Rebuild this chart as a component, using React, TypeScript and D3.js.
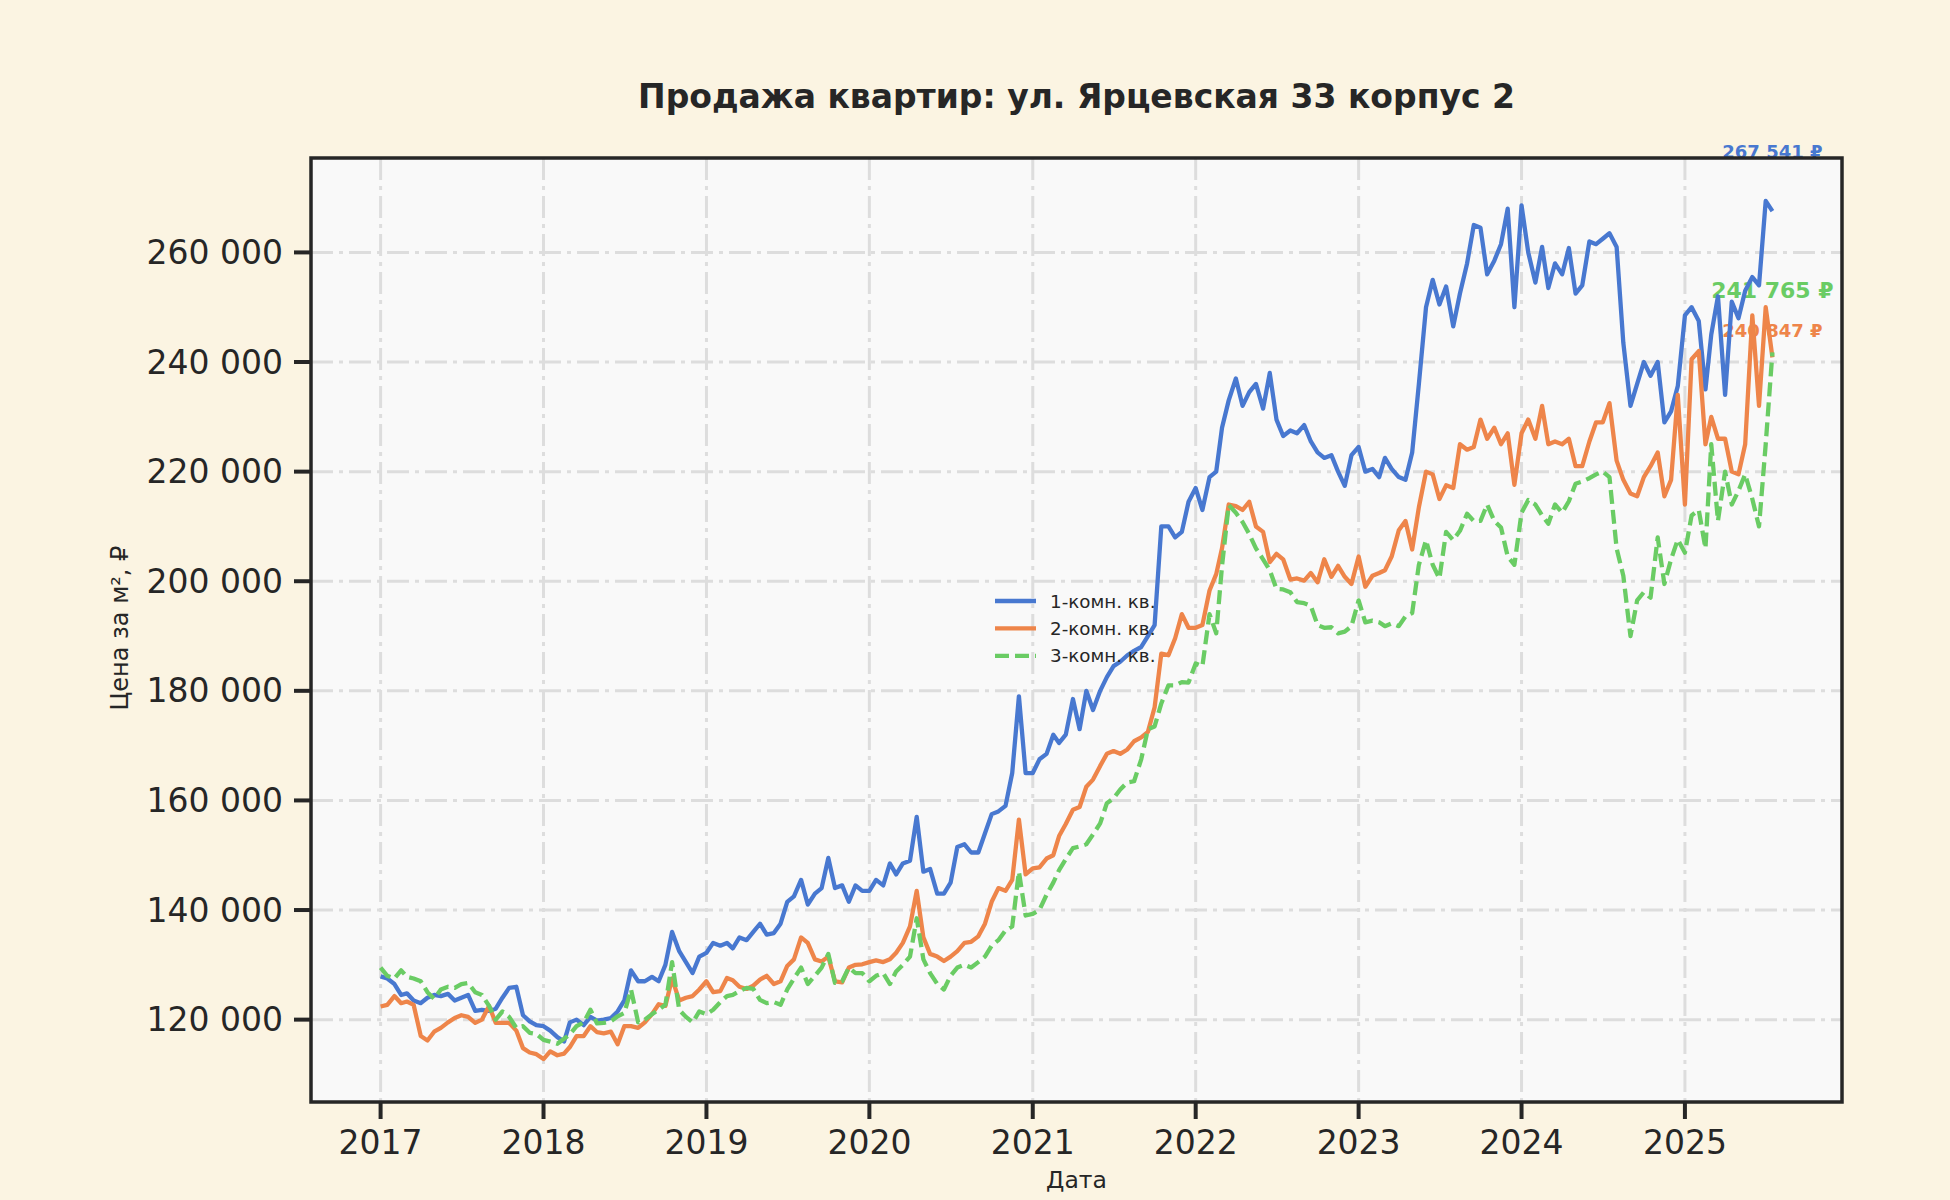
import React from 'react';
import * as d3 from 'd3';

const TITLE = 'Продажа квартир: ул. Ярцевская 33 корпус 2';
const X_LABEL = 'Дата';
const Y_LABEL = 'Цена за м², ₽';

const SERIES_NAMES = ['1-комн. кв.', '2-комн. кв.', '3-комн. кв.'];
const SERIES_COLORS = ['#4878d0', '#ee854a', '#6acc64'];
const SERIES_DASH = ['none', 'none', '14,6'];
// last-value label: vertical shift (px) and font size
const LABEL_SHIFT = [-53, -20, -54];
const LABEL_SIZE = [18, 18, 22];

// semi-monthly sampling: 1st and 16th of each month, Jan 2017 .. Jul 2025
const START_YEAR = 2017;
const POINTS = 206;
const DATES = d3.range(POINTS).map(i => new Date(Date.UTC(START_YEAR, Math.floor(i / 2), i % 2 ? 16 : 1)));

const ONE_ROOM = [
    127900, 127500, 126500, 124500, 124800, 123500, 123000, 124000, 124500, 124300, 124700, 123500, 124000, 124500, 121600, 121800, 121600, 122000, 124000, 125800, 126000, 120800, 119700, 119000,
    118800, 118000, 116800, 116000, 119500, 120000, 119000, 120500, 119800, 120000, 120300, 121500, 123500, 129000, 127000, 127000, 127800, 127000, 130000, 136000, 132500, 130500, 128500, 131500,
    132200, 134000, 133500, 134000, 133000, 135000, 134500, 136000, 137500, 135500, 135800, 137500, 141500, 142500, 145500, 141000, 143000, 144000, 149500, 144000, 144500, 141500, 144500, 143500,
    143500, 145500, 144500, 148500, 146500, 148500, 149000, 157000, 147000, 147500, 143000, 143000, 145000, 151500, 152000, 150500, 150500, 154000, 157500, 158000, 159000, 165000, 179000, 165000,
    165000, 167500, 168500, 172000, 170500, 172000, 178500, 173000, 180000, 176500, 180000, 182500, 184500, 185300, 186500, 187300, 188000, 190000, 192000, 210000, 210000, 208000, 209000, 214500,
    217000, 213000, 219000, 220000, 228000, 233000, 237000, 232000, 234500, 236000, 231500, 238000, 229500, 226500, 227500, 227000, 228500, 225500, 223500, 222500, 223000, 220000, 217400, 223000,
    224500, 220000, 220500, 219000, 222500, 220500, 219000, 218500, 223500, 236000, 250000, 255000, 250500, 253800, 246500, 252500, 258000, 265000, 264500, 256000, 258500, 261500, 268000, 250000,
    268600, 260000, 254500, 261000, 253500, 258000, 256000, 260800, 252500, 254000, 262000, 261500, 262500, 263500, 261000, 243500, 232000, 236000, 240000, 237500, 240000, 229000, 231000, 235600,
    248500, 250000, 247500, 235000, 245000, 252000, 234000, 251000, 248000, 253000, 255500, 254000, 269400, 267541,
];

const TWO_ROOM = [
    122400, 122700, 124300, 123000, 123300, 122700, 117000, 116200, 117800, 118500, 119500, 120300, 120800, 120500, 119400, 120000, 122500, 119400, 119400, 119400, 118000, 114800, 114000, 113700,
    112800, 114200, 113500, 113800, 115000, 117000, 117000, 118800, 117700, 117500, 117800, 115500, 118800, 118800, 118500, 119500, 121000, 122800, 122500, 127500, 123500, 124000, 124300, 125500,
    127000, 125000, 125200, 127600, 127200, 126000, 125600, 126200, 127300, 128000, 126500, 127000, 129800, 131000, 135000, 134000, 131000, 130600, 131500, 127000, 126800, 129500, 130000, 130100,
    130500, 130800, 130500, 131000, 132200, 134000, 137000, 143500, 135000, 132000, 131500, 130700, 131500, 132500, 134000, 134200, 135200, 137500, 141500, 144000, 143500, 145500, 156500, 146500,
    147600, 147800, 149400, 150000, 153500, 155700, 158300, 158800, 162500, 163800, 166300, 168500, 169000, 168500, 169300, 170800, 171500, 172500, 177000, 186800, 186500, 189600, 194000, 191500,
    191500, 192000, 198300, 201300, 206000, 214000, 213700, 213000, 214500, 210000, 209000, 203500, 205000, 204000, 200300, 200500, 200100, 201500, 199800, 204000, 200800, 202800, 200800, 199500,
    204500, 199000, 201000, 201500, 202000, 204500, 209300, 211000, 205800, 213500, 220000, 219500, 215000, 217500, 217000, 225000, 224000, 224500, 229500, 226000, 228000, 225000, 227000, 217600,
    227000, 229500, 226000, 232000, 225000, 225500, 225000, 226000, 221000, 221000, 225500, 229000, 229000, 232500, 222000, 218500, 216000, 215500, 219000, 221000, 223500, 215500, 218500, 234000,
    214000, 240500, 242000, 225000, 230000, 226000, 226000, 220000, 219500, 225000, 248500, 232000, 250000, 240847,
];

const THREE_ROOM = [
    129500, 128000, 127500, 129000, 127800, 127500, 127000, 125000, 123800, 125500, 126000, 125800, 126500, 126700, 125000, 124500, 122500, 120000, 121500, 120500, 118500, 118800, 117600, 117400,
    116300, 116000, 115600, 116500, 117300, 118800, 119500, 121800, 119300, 119400, 119700, 120600, 121200, 125500, 119500, 120000, 121000, 121800, 122700, 130500, 121800, 120500, 119500, 121500,
    121000, 121800, 123200, 124300, 124500, 125200, 125800, 125600, 123600, 123000, 123200, 122700, 125500, 127500, 129500, 126500, 128000, 129500, 132000, 126700, 127000, 129500, 128500, 128500,
    127000, 128000, 128500, 126500, 128800, 130000, 131500, 138500, 131000, 128500, 126500, 125500, 128000, 129500, 130000, 129500, 130500, 131500, 133500, 134500, 136300, 137000, 147000, 139000,
    139300, 140000, 142800, 145000, 147300, 149300, 151300, 151600, 152000, 153800, 155800, 159500, 160400, 162000, 163300, 163500, 167500, 173000, 173500, 177700, 181000, 181000, 181600, 181500,
    185000, 184500, 194000, 190500, 202800, 213900, 212500, 210800, 208600, 206000, 204000, 202000, 198600, 198500, 198000, 196200, 196000, 195500, 192000, 191500, 191600, 190500, 190800, 191800,
    196500, 192500, 192800, 192500, 191800, 192300, 191800, 193600, 194200, 203000, 207500, 203000, 200500, 209000, 207500, 209200, 212300, 211000, 211000, 214000, 211000, 209800, 204500, 203000,
    212500, 214800, 214000, 212000, 210500, 214000, 212500, 214600, 217800, 218200, 218800, 219500, 220000, 219000, 206000, 201000, 190000, 196500, 198000, 197000, 208000, 199500, 204000, 207600,
    205200, 212000, 213000, 206000, 225000, 211000, 220000, 214000, 216500, 219500, 215000, 210000, 225000, 241765,
];

const SERIES_VALUES = [ONE_ROOM, TWO_ROOM, THREE_ROOM];

const Y_TICKS = [120000, 140000, 160000, 180000, 200000, 220000, 240000, 260000];
const X_TICK_YEARS = [2017, 2018, 2019, 2020, 2021, 2022, 2023, 2024, 2025];

const FONT = '"DejaVu Sans", sans-serif';
const INK = '#262626';

const App: React.FC = () => {
    const width = 1950;
    const height = 1200;
    const margin = { top: 158, right: 108, bottom: 98, left: 311 };
    const innerWidth = width - margin.left - margin.right;
    const innerHeight = height - margin.top - margin.bottom;

    // matplotlib-like 5% margins on the data extent
    const t0 = DATES[0].getTime();
    const t1 = DATES[DATES.length - 1].getTime();
    const tPad = (t1 - t0) * 0.05;
    const allValues = SERIES_VALUES.flat();
    const vMin = d3.min(allValues) as number;
    const vMax = d3.max(allValues) as number;
    const vPad = (vMax - vMin) * 0.05;

    const xScale = d3.scaleUtc()
        .domain([new Date(t0 - tPad), new Date(t1 + tPad)])
        .range([0, innerWidth]);

    const yScale = d3.scaleLinear()
        .domain([vMin - vPad, vMax + vPad])
        .range([innerHeight, 0]);

    const line = d3.line<number>()
        .x((_, i) => xScale(DATES[i]))
        .y(d => yScale(d));

    const fmt = (v: number) => d3.format(',')(v).replace(/,/g, ' ');
    const lastDate = DATES[DATES.length - 1];
    const gridDash = '22,6,4,6';

    return (
        <svg width={width} height={height} style={{ position: 'absolute', left: 0, top: 0, display: 'block' }} fontFamily={FONT}>
            <defs>
                <clipPath id="plotClip">
                    <rect x={0} y={0} width={innerWidth} height={innerHeight} />
                </clipPath>
            </defs>
            <rect x={0} y={0} width={width} height={height} fill="#fbf4e2" />

            <text x={margin.left + innerWidth / 2} y={108} textAnchor="middle" fontSize={33} fontWeight="bold" fill={INK}>
                {TITLE}
            </text>

            <g transform={`translate(${margin.left}, ${margin.top})`}>
                <rect x={0} y={0} width={innerWidth} height={innerHeight} fill="#f9f9f9" />

                {/* grid */}
                {X_TICK_YEARS.map(yr => {
                    const x = xScale(new Date(Date.UTC(yr, 0, 1)));
                    return <line key={'gx' + yr} x1={x} x2={x} y1={0} y2={innerHeight} stroke="#dddddd" strokeWidth={3} strokeDasharray={gridDash} />;
                })}
                {Y_TICKS.map(v => (
                    <line key={'gy' + v} x1={0} x2={innerWidth} y1={yScale(v)} y2={yScale(v)} stroke="#dddddd" strokeWidth={3} strokeDasharray={gridDash} />
                ))}

                {/* last-value labels */}
                {SERIES_VALUES.map((vals, s) => (
                    <text
                        key={'lbl' + s}
                        x={xScale(lastDate)}
                        y={yScale(vals[vals.length - 1]) + LABEL_SHIFT[s]}
                        textAnchor="middle"
                        fontSize={LABEL_SIZE[s]}
                        fontWeight="bold"
                        fill={SERIES_COLORS[s]}
                    >
                        {fmt(vals[vals.length - 1])} ₽
                    </text>
                ))}

                {/* series */}
                <g clipPath="url(#plotClip)">
                    {SERIES_VALUES.map((vals, s) => (
                        <path
                            key={'ser' + s}
                            d={line(vals) || ''}
                            fill="none"
                            stroke={SERIES_COLORS[s]}
                            strokeWidth={4.3}
                            strokeDasharray={SERIES_DASH[s]}
                            strokeLinejoin="round"
                            strokeLinecap="butt"
                        />
                    ))}
                </g>

                {/* legend */}
                <g transform="translate(684, 443)">
                    {SERIES_NAMES.map((name, s) => (
                        <g key={'leg' + s} transform={`translate(0, ${s * 27.4})`}>
                            <line x1={0} x2={41} y1={0} y2={0} stroke={SERIES_COLORS[s]} strokeWidth={4.3} strokeDasharray={SERIES_DASH[s]} />
                            <text x={55} y={0} dominantBaseline="central" fontSize={18.3} fill={INK}>{name}</text>
                        </g>
                    ))}
                </g>

                {/* ticks */}
                {Y_TICKS.map(v => (
                    <g key={'ty' + v} transform={`translate(0, ${yScale(v)})`}>
                        <line x1={-17} x2={0} y1={0} y2={0} stroke={INK} strokeWidth={4} />
                        <text x={-28} y={0} textAnchor="end" dominantBaseline="central" fontSize={33} fill={INK}>{fmt(v)}</text>
                    </g>
                ))}
                {X_TICK_YEARS.map(yr => (
                    <g key={'tx' + yr} transform={`translate(${xScale(new Date(Date.UTC(yr, 0, 1)))}, ${innerHeight})`}>
                        <line x1={0} x2={0} y1={0} y2={17} stroke={INK} strokeWidth={4} />
                        <text x={0} y={52} textAnchor="middle" fontSize={33} fill={INK}>{yr}</text>
                    </g>
                ))}

                <rect x={0} y={0} width={innerWidth} height={innerHeight} fill="none" stroke={INK} strokeWidth={3.5} />

                <text x={innerWidth / 2} y={innerHeight + 86} textAnchor="middle" fontSize={23.5} fill={INK}>{X_LABEL}</text>
                <text
                    transform={`translate(${120 - margin.left}, ${628 - margin.top}) rotate(-90)`}
                    textAnchor="middle"
                    dominantBaseline="central"
                    fontSize={24}
                    fill={INK}
                >
                    {Y_LABEL}
                </text>
            </g>
        </svg>
    );
};

export default App;
